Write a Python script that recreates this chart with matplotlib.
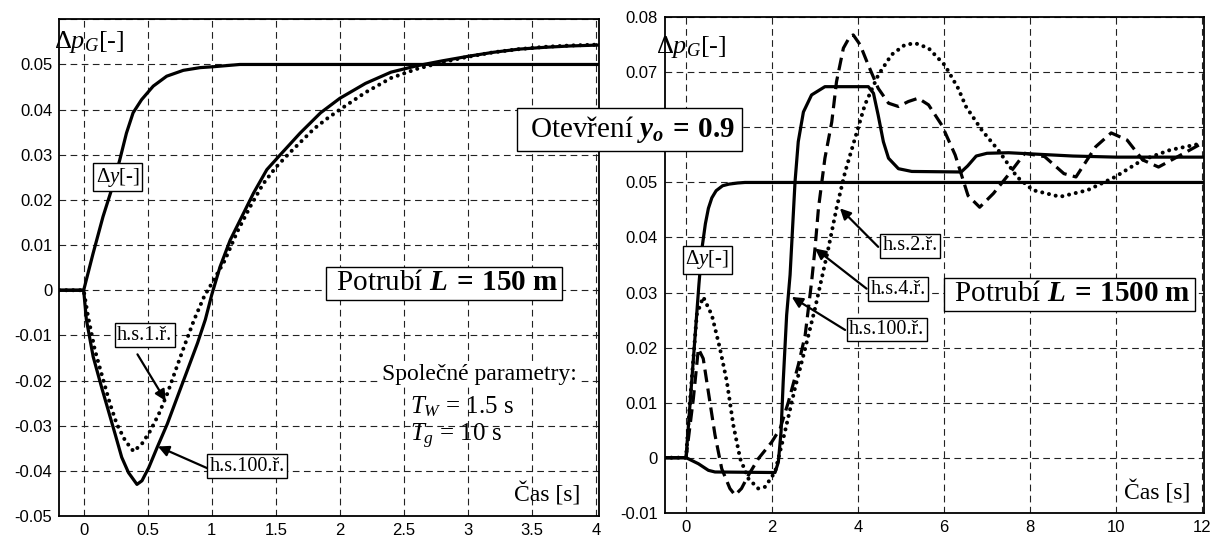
import matplotlib
matplotlib.use("Agg")
import matplotlib.pyplot as plt

plt.rcParams['font.family'] = ['Liberation Serif', 'DejaVu Serif']
plt.rcParams['mathtext.fontset'] = 'custom'
plt.rcParams['mathtext.rm'] = 'Liberation Serif'
plt.rcParams['mathtext.it'] = 'Liberation Serif:italic'
plt.rcParams['mathtext.bf'] = 'Liberation Serif:bold'
plt.rcParams['mathtext.bfit'] = 'Liberation Serif:italic:bold'

# ---- levy graf: potrubi L = 150 m ----
t_dy_L = [-0.19, 0, 0.073, 0.151, 0.217, 0.282, 0.334, 0.386, 0.452, 0.543, 0.648, 0.778, 0.909, 1.013, 1.22, 4.02]
dy_L = [0, 0, 0.0081, 0.0163, 0.0222, 0.0289, 0.0348, 0.0393, 0.0422, 0.0452, 0.0474, 0.0487, 0.0493, 0.0495, 0.05, 0.05]

t_100_L = [-0.19, 0, 0.021, 0.074, 0.139, 0.192, 0.245, 0.297, 0.35, 0.416, 0.455, 0.508, 0.574, 0.653, 0.732,
           0.81, 0.889, 0.95, 1.0, 1.065, 1.144, 1.235, 1.326, 1.43, 1.535, 1.69, 1.85, 2.0, 2.2, 2.4, 2.6, 2.8,
           3.0, 3.2, 3.4, 3.6, 3.8, 4.02]
p100_L = [0, 0, -0.0065, -0.0147, -0.0214, -0.0266, -0.0318, -0.037, -0.0404, -0.043, -0.0422, -0.0393, -0.0348,
          -0.0296, -0.0236, -0.0177, -0.0117, -0.0065, -0.001, 0.0052, 0.0111, 0.0163, 0.0215, 0.0267, 0.03, 0.0348,
          0.0393, 0.0425, 0.0458, 0.0483, 0.0497, 0.0508, 0.0518, 0.0527, 0.0534, 0.0538, 0.0541, 0.0543]

t_1_L = [-0.19, 0, 0.034, 0.087, 0.153, 0.205, 0.258, 0.324, 0.39, 0.455, 0.521, 0.587, 0.653, 0.718, 0.784,
         0.863, 0.942, 0.99, 1.1, 1.2, 1.3, 1.4, 1.5, 1.6, 1.7, 1.8, 1.9, 2.0, 2.2, 2.4, 2.6, 2.8, 3.0, 3.2, 3.4,
         3.6, 3.8, 4.02]
p1_L = [0, 0, -0.0058, -0.0132, -0.0199, -0.0251, -0.0296, -0.0333, -0.0357, -0.034, -0.0311, -0.0274, -0.0229,
        -0.0177, -0.0125, -0.0065, -0.0013, 0.001, 0.0065, 0.013, 0.0185, 0.0235, 0.0272, 0.0302, 0.033, 0.0358,
        0.038, 0.04, 0.0438, 0.047, 0.049, 0.0505, 0.0517, 0.0527, 0.0534, 0.0539, 0.0542, 0.0544]

# ---- pravy graf: potrubi L = 1500 m ----
t_dy_R = [-0.5, 0, 0.1, 0.2, 0.3, 0.37, 0.45, 0.52, 0.6, 0.7, 0.85, 1.0, 1.2, 1.37, 12.05]
dy_R = [0, 0, 0.0105, 0.021, 0.0315, 0.038, 0.0425, 0.0453, 0.0472, 0.0485, 0.0494, 0.0497, 0.0499, 0.05, 0.05]

t_100_R = [-0.5, 0, 0.287, 0.52, 0.674, 2.07, 2.147, 2.21, 2.26, 2.34, 2.42, 2.535, 2.61, 2.73, 2.92, 3.23, 4.24,
           4.36, 4.47, 4.59, 4.71, 4.94, 5.25, 6.4, 6.55, 6.75, 7.0, 7.5, 8.0, 9.0, 10.0, 12.05]
p100_R = [0, 0, -0.0011, -0.0023, -0.0026, -0.0027, -0.0008, 0.0047, 0.0138, 0.0259, 0.0332, 0.0501, 0.0574,
          0.0628, 0.0659, 0.0674, 0.0674, 0.0662, 0.0622, 0.0574, 0.0544, 0.0525, 0.052, 0.0519, 0.053, 0.0548,
          0.0553, 0.0554, 0.0552, 0.0548, 0.0546, 0.0546]

t_4_R = [-0.5, 0, 0.17, 0.287, 0.4, 0.52, 0.674, 0.83, 1.02, 1.14, 1.29, 1.45, 1.68, 1.99, 2.19, 2.38, 2.61, 2.77,
         2.92, 3.0, 3.08, 3.23, 3.39, 3.5, 3.66, 3.81, 3.89, 4.05, 4.24, 4.47, 4.71, 4.94, 5.17, 5.4, 5.64, 5.95,
         6.26, 6.56, 6.83, 7.15, 7.52, 7.88, 8.34, 8.79, 9.07, 9.53, 9.89, 10.26, 10.62, 10.99, 11.44, 12.0]
p4_R = [0, 0, 0.0107, 0.0198, 0.018, 0.0119, 0.0041, -0.002, -0.0056, -0.0068, -0.0056, -0.0032, -0.0002, 0.0028,
        0.0053, 0.0101, 0.0168, 0.0222, 0.0319, 0.038, 0.0453, 0.0544, 0.061, 0.0683, 0.0744, 0.0765, 0.0768,
        0.075, 0.0713, 0.0671, 0.0644, 0.0638, 0.0647, 0.0653, 0.0641, 0.0604, 0.055, 0.0476, 0.0455, 0.048,
        0.0516, 0.0553, 0.0547, 0.0516, 0.051, 0.0565, 0.059, 0.0577, 0.0541, 0.0528, 0.0547, 0.0571]

t_2_R = [-0.5, 0, 0.1, 0.25, 0.4, 0.6, 0.79, 0.95, 1.1, 1.26, 1.45, 1.68, 1.84, 2.07, 2.3, 2.53, 2.77, 3.0, 3.31,
         3.5, 3.7, 3.93, 4.16, 4.47, 4.78, 5.09, 5.33, 5.64, 6.02, 6.33, 6.51, 6.88, 7.26, 7.7, 8.07, 8.7, 9.34,
         9.98, 10.62, 11.26, 12.0]
p2_R = [0, 0, 0.011, 0.026, 0.0292, 0.0259, 0.0198, 0.0138, 0.0059, -0.0002, -0.0038, -0.0056, -0.0053, -0.0026,
        0.0047, 0.0125, 0.0198, 0.0271, 0.038, 0.0453, 0.0519, 0.058, 0.0641, 0.0695, 0.0732, 0.075, 0.0753,
        0.0744, 0.0713, 0.0671, 0.0638, 0.0595, 0.0559, 0.051, 0.0486, 0.0474, 0.0486, 0.051, 0.0541, 0.0559, 0.0571]

xticks_L = [0, 0.5, 1, 1.5, 2, 2.5, 3, 3.5, 4]
xlabels_L = ['0', '0.5', '1', '1.5', '2', '2.5', '3', '3.5', '4']
yticks_L = [-0.05, -0.04, -0.03, -0.02, -0.01, 0, 0.01, 0.02, 0.03, 0.04, 0.05, 0.06]
ylabels_L = ['-0.05', '-0.04', '-0.03', '-0.02', '-0.01', '0', '0.01', '0.02', '0.03', '0.04', '0.05', '']
xticks_R = [0, 2, 4, 6, 8, 10, 12]
yticks_R = [-0.01, 0, 0.01, 0.02, 0.03, 0.04, 0.05, 0.06, 0.07, 0.08]
# popisek 0.06 je v originale schovany pod boxem "Otevreni"
ylabels_R = ['-0.01', '0', '0.01', '0.02', '0.03', '0.04', '0.05', '', '0.07', '0.08']

fig = plt.figure(figsize=(12.16, 5.38), dpi=100)
axL = fig.add_axes([0.0488, 0.0409, 0.4434, 0.9232])
axR = fig.add_axes([0.5465, 0.0470, 0.4437, 0.9208])

lw = 2.3
dots = (0, (0.01, 1.7))
box_s = dict(boxstyle='square,pad=0.12', fc='white', ec='black', lw=1)
arr = dict(arrowstyle='-|>', color='black', lw=1.6, mutation_scale=16, shrinkA=0, shrinkB=0)


def style_axes(ax):
    ax.grid(True, color='#222222', lw=0.8, linestyle=(0, (6, 4)))
    ax.tick_params(length=0, labelsize=12, pad=5)
    for lab in ax.get_xticklabels() + ax.get_yticklabels():
        lab.set_fontfamily('Liberation Sans')
    for sp in ax.spines.values():
        sp.set_linewidth(1.3)


# levy
axL.plot(t_dy_L, dy_L, color='black', lw=lw)
axL.plot(t_100_L, p100_L, color='black', lw=lw)
axL.plot(t_1_L, p1_L, color='black', lw=2.9, linestyle=dots, dash_capstyle='round')
axL.set_xlim(-0.19, 4.02)
axL.set_ylim(-0.05, 0.06)
axL.set_xticks(xticks_L)
axL.set_xticklabels(xlabels_L)
axL.set_yticks(yticks_L)
axL.set_yticklabels(ylabels_L)
style_axes(axL)

axL.text(0.267, 0.025, 'Δ$y$[-]', fontsize=15, ha='center', va='center', bbox=box_s, zorder=5)
axL.text(2.815, 0.0016, r' Potrubí $\mathbfit{L}\:\mathbf{=}\:\mathbf{150\ m}$ ', fontsize=21, ha='center',
         va='center', bbox=dict(boxstyle='square,pad=0.12', fc='white', ec='black', lw=1), zorder=5)
axL.annotate('', xy=(0.64, -0.0245), xytext=(0.42, -0.0142), arrowprops=arr, zorder=4)
axL.text(0.477, -0.01, 'h.s.1.ř.', fontsize=14.5, ha='center', va='center', bbox=box_s, zorder=5)
axL.annotate('', xy=(0.58, -0.0346), xytext=(0.98, -0.0396), arrowprops=arr, zorder=4)
axL.text(1.276, -0.039, 'h.s.100.ř.', fontsize=14.5, ha='center', va='center', bbox=box_s, zorder=5)
axL.text(2.33, -0.0198, 'Společné parametry:', fontsize=17, ha='left', va='baseline',
         bbox=dict(fc='white', ec='none', pad=1), zorder=5)
axL.text(2.55, -0.0272, r'$T_W$ = 1.5 s', fontsize=18, ha='left', va='baseline', zorder=5)
axL.text(2.55, -0.0335, r'$T_g$ = 10 s', fontsize=18, ha='left', va='baseline', zorder=5)
axL.text(3.876, -0.0453, 'Čas [s]', fontsize=17, ha='right', va='center', zorder=5)

# pravy
axR.plot(t_dy_R, dy_R, color='black', lw=lw)
axR.plot(t_100_R, p100_R, color='black', lw=lw)
axR.plot(t_4_R, p4_R, color='black', lw=lw, linestyle=(0, (4.0, 2.0)))
axR.plot(t_2_R, p2_R, color='black', lw=2.9, linestyle=dots, dash_capstyle='round')
axR.set_xlim(-0.5, 12.05)
axR.set_ylim(-0.01, 0.08)
axR.set_xticks(xticks_R)
axR.set_yticks(yticks_R)
axR.set_yticklabels(ylabels_R)
style_axes(axR)

axR.text(0.49, 0.036, 'Δ$y$[-]', fontsize=15, ha='center', va='center', bbox=box_s, zorder=5)
axR.annotate('', xy=(3.58, 0.0453), xytext=(4.47, 0.0383), arrowprops=arr, zorder=4)
axR.text(5.22, 0.0385, 'h.s.2.ř.', fontsize=14.5, ha='center', va='center', bbox=box_s, zorder=5)
axR.annotate('', xy=(3.0, 0.038), xytext=(4.2, 0.0307), arrowprops=arr, zorder=4)
axR.text(4.94, 0.0306, 'h.s.4.ř.', fontsize=14.5, ha='center', va='center', bbox=box_s, zorder=5)
axR.annotate('', xy=(2.46, 0.0292), xytext=(3.7, 0.0232), arrowprops=arr, zorder=4)
axR.text(4.67, 0.0233, 'h.s.100.ř.', fontsize=14.5, ha='center', va='center', bbox=box_s, zorder=5)
axR.text(8.91, 0.0297, r' Potrubí $\mathbfit{L}\:\mathbf{=}\:\mathbf{1500\ m}$ ', fontsize=21, ha='center',
         va='center', bbox=dict(boxstyle='square,pad=0.12', fc='white', ec='black', lw=1), zorder=5)
axR.text(11.72, -0.0064, 'Čas [s]', fontsize=17, ha='right', va='center', zorder=5)

# popisky os a spolecny box
fig.text(53.6 / 1216, 1 - 42.3 / 538, 'Δ$p_G$[-]', fontsize=19, ha='left', va='center')
fig.text(656 / 1216, 1 - 47.5 / 538, 'Δ$p_G$[-]', fontsize=19, ha='left', va='center')
fig.text(629.5 / 1216, 1 - 129.7 / 538, r' Otevření $\mathbfit{y_o}\:\mathbf{=}\:\mathbf{0.9}$ ', fontsize=21,
         ha='center', va='center', bbox=dict(boxstyle='square,pad=0.2', fc='white', ec='black', lw=1), zorder=6)

fig.savefig('out.png', dpi=100)
